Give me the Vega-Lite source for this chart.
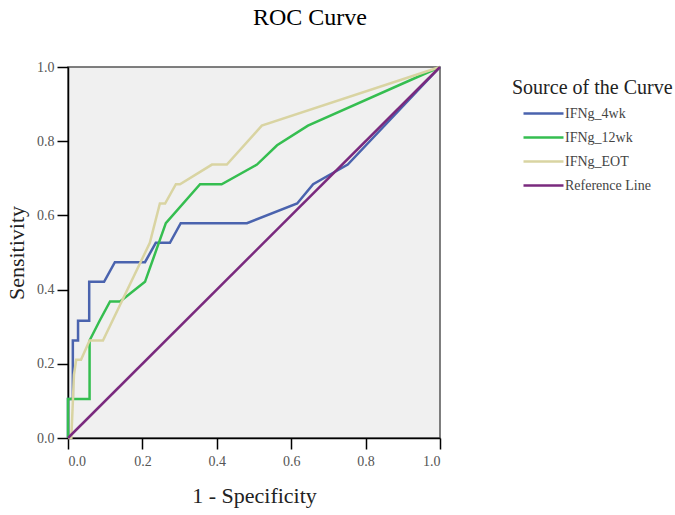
{
  "$schema": "https://vega.github.io/schema/vega-lite/v6.json",
  "width": 372,
  "height": 371,
  "autosize": {"type": "none"},
  "padding": {"left": 68, "top": 67, "right": 235, "bottom": 77},
  "background": "white",
  "title": {
    "text": "ROC Curve",
    "font": "Liberation Serif",
    "fontSize": 24,
    "fontWeight": "normal",
    "color": "#000000",
    "anchor": "middle",
    "frame": "group",
    "dx": 56,
    "offset": 30
  },
  "config": {
    "view": {"fill": "#F0F0F0", "stroke": "#555555", "strokeWidth": 1.5},
    "axis": {
      "grid": false,
      "domainColor": "#000000",
      "domainWidth": 1.5,
      "tickColor": "#000000",
      "tickWidth": 1.5,
      "tickSize": 11,
      "labelFont": "Liberation Serif",
      "labelFontSize": 14,
      "labelColor": "#555555",
      "titleFont": "Liberation Serif",
      "titleFontSize": 22,
      "titleFontWeight": "normal",
      "titleColor": "#222222"
    },
    "legend": {
      "titleFont": "Liberation Serif",
      "titleFontSize": 20,
      "titleFontWeight": "normal",
      "titleColor": "#222222",
      "labelFont": "Liberation Serif",
      "labelFontSize": 14,
      "labelColor": "#444444",
      "padding": 0
    }
  },
  "data": {
    "values": [
      {"series": "IFNg_4wk", "i": 0, "fpr": 0, "tpr": 0},
      {"series": "IFNg_4wk", "i": 1, "fpr": 0, "tpr": 0.105},
      {"series": "IFNg_4wk", "i": 2, "fpr": 0.013, "tpr": 0.105},
      {"series": "IFNg_4wk", "i": 3, "fpr": 0.013, "tpr": 0.263},
      {"series": "IFNg_4wk", "i": 4, "fpr": 0.027, "tpr": 0.263},
      {"series": "IFNg_4wk", "i": 5, "fpr": 0.027, "tpr": 0.316},
      {"series": "IFNg_4wk", "i": 6, "fpr": 0.057, "tpr": 0.316},
      {"series": "IFNg_4wk", "i": 7, "fpr": 0.057, "tpr": 0.421},
      {"series": "IFNg_4wk", "i": 8, "fpr": 0.097, "tpr": 0.421},
      {"series": "IFNg_4wk", "i": 9, "fpr": 0.126, "tpr": 0.474},
      {"series": "IFNg_4wk", "i": 10, "fpr": 0.207, "tpr": 0.474},
      {"series": "IFNg_4wk", "i": 11, "fpr": 0.236, "tpr": 0.526},
      {"series": "IFNg_4wk", "i": 12, "fpr": 0.274, "tpr": 0.526},
      {"series": "IFNg_4wk", "i": 13, "fpr": 0.303, "tpr": 0.579},
      {"series": "IFNg_4wk", "i": 14, "fpr": 0.481, "tpr": 0.579},
      {"series": "IFNg_4wk", "i": 15, "fpr": 0.616, "tpr": 0.632},
      {"series": "IFNg_4wk", "i": 16, "fpr": 0.659, "tpr": 0.684},
      {"series": "IFNg_4wk", "i": 17, "fpr": 0.752, "tpr": 0.737},
      {"series": "IFNg_4wk", "i": 18, "fpr": 1, "tpr": 1},
      {"series": "IFNg_12wk", "i": 0, "fpr": 0, "tpr": 0},
      {"series": "IFNg_12wk", "i": 1, "fpr": 0, "tpr": 0.105},
      {"series": "IFNg_12wk", "i": 2, "fpr": 0.058, "tpr": 0.105},
      {"series": "IFNg_12wk", "i": 3, "fpr": 0.058, "tpr": 0.263},
      {"series": "IFNg_12wk", "i": 4, "fpr": 0.085, "tpr": 0.316},
      {"series": "IFNg_12wk", "i": 5, "fpr": 0.113, "tpr": 0.368},
      {"series": "IFNg_12wk", "i": 6, "fpr": 0.14, "tpr": 0.368},
      {"series": "IFNg_12wk", "i": 7, "fpr": 0.207, "tpr": 0.421},
      {"series": "IFNg_12wk", "i": 8, "fpr": 0.263, "tpr": 0.579},
      {"series": "IFNg_12wk", "i": 9, "fpr": 0.355, "tpr": 0.684},
      {"series": "IFNg_12wk", "i": 10, "fpr": 0.413, "tpr": 0.684},
      {"series": "IFNg_12wk", "i": 11, "fpr": 0.508, "tpr": 0.737},
      {"series": "IFNg_12wk", "i": 12, "fpr": 0.562, "tpr": 0.789},
      {"series": "IFNg_12wk", "i": 13, "fpr": 0.645, "tpr": 0.842},
      {"series": "IFNg_12wk", "i": 14, "fpr": 1, "tpr": 1},
      {"series": "IFNg_EOT", "i": 0, "fpr": 0, "tpr": 0},
      {"series": "IFNg_EOT", "i": 1, "fpr": 0.009, "tpr": 0},
      {"series": "IFNg_EOT", "i": 2, "fpr": 0.016, "tpr": 0.17},
      {"series": "IFNg_EOT", "i": 3, "fpr": 0.022, "tpr": 0.211},
      {"series": "IFNg_EOT", "i": 4, "fpr": 0.035, "tpr": 0.211},
      {"series": "IFNg_EOT", "i": 5, "fpr": 0.058, "tpr": 0.263},
      {"series": "IFNg_EOT", "i": 6, "fpr": 0.094, "tpr": 0.263},
      {"series": "IFNg_EOT", "i": 7, "fpr": 0.22, "tpr": 0.526},
      {"series": "IFNg_EOT", "i": 8, "fpr": 0.247, "tpr": 0.632},
      {"series": "IFNg_EOT", "i": 9, "fpr": 0.261, "tpr": 0.632},
      {"series": "IFNg_EOT", "i": 10, "fpr": 0.29, "tpr": 0.684},
      {"series": "IFNg_EOT", "i": 11, "fpr": 0.301, "tpr": 0.684},
      {"series": "IFNg_EOT", "i": 12, "fpr": 0.387, "tpr": 0.737},
      {"series": "IFNg_EOT", "i": 13, "fpr": 0.427, "tpr": 0.737},
      {"series": "IFNg_EOT", "i": 14, "fpr": 0.521, "tpr": 0.842},
      {"series": "IFNg_EOT", "i": 15, "fpr": 1, "tpr": 1},
      {"series": "Reference Line", "i": 0, "fpr": 0, "tpr": 0},
      {"series": "Reference Line", "i": 1, "fpr": 1, "tpr": 1}
    ]
  },
  "mark": {"type": "line", "strokeWidth": 2.5, "clip": false},
  "encoding": {
    "x": {
      "field": "fpr",
      "type": "quantitative",
      "scale": {"domain": [0, 1], "nice": false, "zero": false},
      "axis": {
        "title": "1 - Specificity",
        "values": [0, 0.2, 0.4, 0.6, 0.8, 1],
        "format": ".1f",
        "labelPadding": 5,
        "titlePadding": 17
      }
    },
    "y": {
      "field": "tpr",
      "type": "quantitative",
      "scale": {"domain": [0, 1], "nice": false, "zero": false},
      "axis": {
        "title": "Sensitivity",
        "values": [0, 0.2, 0.4, 0.6, 0.8, 1],
        "format": ".1f",
        "labelPadding": 3,
        "titlePadding": 8
      }
    },
    "color": {
      "field": "series",
      "type": "nominal",
      "scale": {
        "domain": ["IFNg_4wk", "IFNg_12wk", "IFNg_EOT", "Reference Line"],
        "range": ["#4A63AE", "#35BE50", "#D9D4A2", "#7A2A7E"]
      },
      "legend": {
        "title": "Source of the Curve",
        "orient": "none",
        "legendX": 444,
        "legendY": 11,
        "symbolType": "M-2,0H2",
        "symbolSize": 400,
        "symbolStrokeWidth": 2.5,
        "symbolOffset": 20,
        "labelOffset": 10,
        "rowPadding": 5,
        "titlePadding": 4
      }
    },
    "order": {"field": "i", "type": "quantitative"}
  }
}
